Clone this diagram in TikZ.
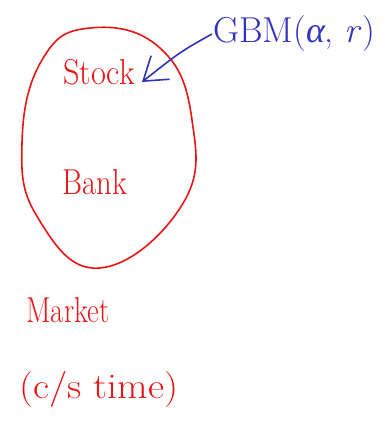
\documentclass[tikz,border=0pt]{standalone}
\usepackage{fontspec}
\newfontfamily\grkfont{Liberation Serif}
\usetikzlibrary{arrows.meta}
\definecolor{inkred}{RGB}{235,20,20}
\definecolor{inkblue}{RGB}{50,50,190}
\begin{document}
\begin{tikzpicture}[x=1pt,y=-1pt,
  redtxt/.style={text=inkred,font=\fontsize{36}{40}\selectfont,inner sep=1pt},
  bluetxt/.style={text=inkblue,font=\fontsize{36}{40}\selectfont,inner sep=1pt}]
\useasboundingbox[fill=white] (0,0) rectangle (390,428);
% ellipse-like loop
\draw[inkred,line width=1.6pt] plot[smooth cycle,tension=0.75] coordinates
  {(90,28) (160,48) (192,120) (182,205) (100,268) (38,218) (22,143) (42,60)};
\node[redtxt,xscale=0.9] (stock) at (99,72) {Stock};
\node[redtxt,xscale=0.85] (bank) at (95,182) {Bank};
\node[bluetxt,xscale=1.0] (gbm) at (294,34) {GBM({\grkfont\itshape α}, \textit{r})};
\node[redtxt,xscale=0.8] (market) at (68,310) {Market};
\node[redtxt,xscale=1.1] (time) at (99,390) {(c/s time)};
\coordinate (tip) at (142,82);
\draw[inkblue,line width=1.6pt,-{Straight Barb[length=22pt,width=30pt,line width=1.6pt]}]
  (gbm.west) .. controls (180,52) .. (tip);
\end{tikzpicture}
\end{document}
